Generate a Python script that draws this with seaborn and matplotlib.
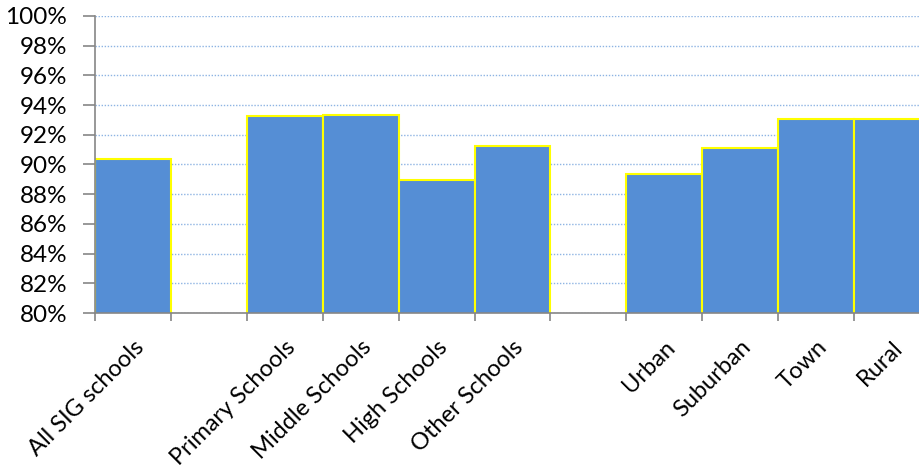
import matplotlib
matplotlib.use("Agg")
import matplotlib.pyplot as plt
import matplotlib.transforms as mtransforms
import seaborn as sns
import pandas as pd
import numpy as np
from matplotlib.ticker import FixedLocator, PercentFormatter

categories = ["All SIG schools", "Primary Schools", "Middle Schools", "High Schools",
              "Other Schools", "Urban", "Suburban", "Town", "Rural"]
values = [90.35, 93.24, 93.33, 88.93, 91.25, 89.36, 91.13, 93.06, 93.06]
slot_order = ["All SIG schools", "_gap1", "Primary Schools", "Middle Schools", "High Schools",
              "Other Schools", "_gap2", "Urban", "Suburban", "Town", "Rural"]
yticks = list(range(80, 101, 2))

sns.set_theme(style="white")
plt.rcParams['font.family'] = ['Lato', 'DejaVu Sans']

df = pd.DataFrame({"cat": categories, "val": values})

fig = plt.figure(figsize=(9.2, 4.67), dpi=100)
ax = fig.add_axes([95/920, 1-313/467, 835/920, (313-16)/467])

ax.set_axisbelow(True)
ax.yaxis.grid(True, color="#8EB4E3", linestyle=(0, (1, 1.2)), linewidth=1.0)
ax.xaxis.grid(False)

sns.barplot(data=df, x="cat", y="val", order=slot_order, color="#558ED5",
            saturation=1, width=1.0, edgecolor="#FFFF00", linewidth=1.5, ax=ax,
            bottom=0)

ax.set_ylim(80, 100)
ax.set_xlim(-0.5, 10.5)
ax.set_yticks(yticks)
ax.yaxis.set_major_formatter(PercentFormatter(decimals=0))
ax.set_xlabel("")
ax.set_ylabel("")

pos = [slot_order.index(c) for c in categories]
ax.set_xticks(pos)
ax.set_xticklabels(categories, rotation=45, ha="right", rotation_mode="anchor",
                   fontsize=17, color="#000000")
offset = mtransforms.ScaledTranslation(-4/100, 0/100, fig.dpi_scale_trans)
for lbl in ax.get_xticklabels():
    lbl.set_transform(lbl.get_transform() + offset)
ax.xaxis.set_minor_locator(FixedLocator(np.arange(-0.5, 11, 1.0)))
ax.tick_params(axis="x", which="major", length=0, pad=17)
ax.tick_params(axis="x", which="minor", length=6, width=1.2, color="#868686", direction="out", bottom=True)
ax.tick_params(axis="y", which="major", length=9, width=1.2, color="#868686", direction="out",
               labelsize=17.5, labelcolor="#000000", pad=11, left=True)

for s in ["top", "right"]:
    ax.spines[s].set_visible(False)
for s in ["left", "bottom"]:
    ax.spines[s].set_visible(True)
    ax.spines[s].set_color("#868686")
    ax.spines[s].set_linewidth(1.2)

fig.savefig("out.png", dpi=100)
